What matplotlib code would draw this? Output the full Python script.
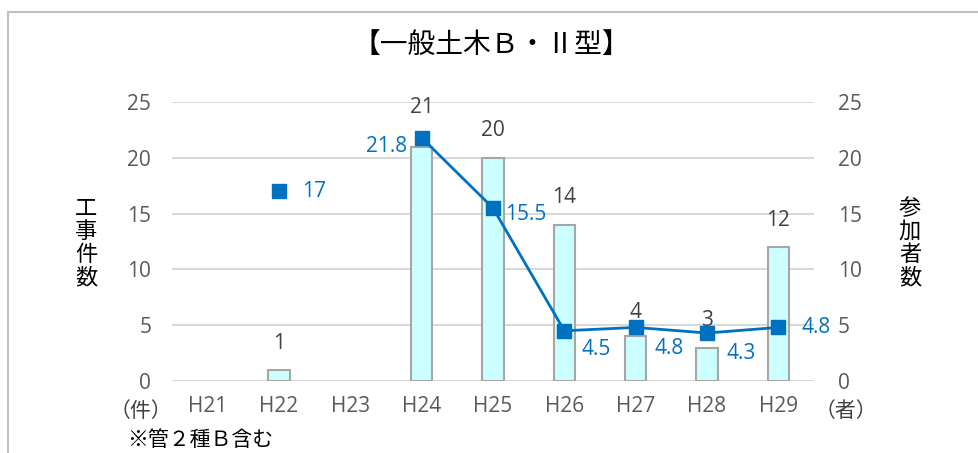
import numpy as np
import matplotlib.pyplot as plt
from matplotlib.patches import Rectangle

plt.rcParams['font.family'] = ['Noto Sans CJK JP', 'DejaVu Sans']
num_font = ["Open Sans", "DejaVu Sans"]

years = ["H21", "H22", "H23", "H24", "H25", "H26", "H27", "H28", "H29"]
works = [np.nan, 1, np.nan, 21, 20, 14, 4, 3, 12]
bidders = [np.nan, 17, np.nan, 21.8, 15.5, 4.5, 4.8, 4.3, 4.8]
# label offsets in pixels (dx, dy) from the point, label anchored left/right-center
bid_pos = [None, (23, 0, "left"), None, (-15, -9, "right"), (12, -6, "left"),
           (17, -19, "left"), (19, -21, "left"), (20, -20, "left"), (23, 0, "left")]
work_dy = [None, 26, None, 39, 27, 27, 24, 27, 27]

fig = plt.figure(figsize=(9.79, 4.53), dpi=100)
ax = fig.add_axes([172 / 979, 1 - 381 / 453, (814 - 172) / 979, (381 - 102) / 453])
ax2 = ax.twinx()

x = np.arange(len(years))
ax.bar(x, works, width=0.3, color="#CCFFFF", edgecolor="#A6A6A6", linewidth=1.5, zorder=2)
for i, v in enumerate(works):
    if not np.isnan(v):
        ax.annotate(str(v), (i, v), xytext=(0, work_dy[i]), textcoords="offset pixels",
                    ha="center", va="center", fontsize=15, color="#404040", family=num_font)

ax2.plot(x, bidders, color="#0070C0", lw=2, marker="s", markersize=10, zorder=3)
for i, v in enumerate(bidders):
    if bid_pos[i] is None:
        continue
    dx, dy, ha = bid_pos[i]
    lab = str(int(v)) if v == int(v) else str(v)
    ax2.annotate(lab, (i, v), xytext=(dx, dy), textcoords="offset pixels",
                 ha=ha, va="center", fontsize=15, color="#0070C0", family=num_font)

for a in (ax, ax2):
    a.set_ylim(0, 25)
    a.set_yticks(range(0, 26, 5))
    a.tick_params(length=0, labelsize=15, labelcolor="#595959")
    for s in a.spines.values():
        s.set_visible(False)
    for t in a.get_yticklabels():
        t.set_family(num_font)
ax.tick_params(axis="y", pad=15)
ax2.tick_params(axis="y", pad=17)
ax.set_xlim(-0.5, len(years) - 0.5)
ax.set_xticks(x)
ax.set_xticklabels(years)
ax.tick_params(axis="x", pad=11)
for t in ax.get_xticklabels():
    t.set_family(num_font)
ax.grid(axis="y", color="#D9D9D9", lw=1.5, zorder=0)
ax.set_axisbelow(True)
ax.axhline(0, color="#D9D9D9", lw=1.5, zorder=1)
ax2.set_zorder(ax.get_zorder() + 1)
ax2.patch.set_visible(False)

fig.text(491 / 979, 1 - 45 / 453, "【一般土木Ｂ・Ⅱ型】", ha="center", va="center", fontsize=20)
fig.text(86 / 979, 1 - 243 / 453, "工\n事\n件\n数", ha="center", va="center",
         fontsize=16, linespacing=1.0)
fig.text(910 / 979, 1 - 243 / 453, "参\n加\n者\n数", ha="center", va="center",
         fontsize=16, linespacing=1.0)
fig.text(141 / 979, 1 - 411 / 453, "（件）", ha="center", va="center", fontsize=15, color="#404040")
fig.text(846 / 979, 1 - 411 / 453, "（者）", ha="center", va="center", fontsize=15, color="#404040")
fig.text(127 / 979, 1 - 440 / 453, "※管２種Ｂ含む", ha="left", va="center", fontsize=15)

fig.patches.append(Rectangle((8 / 979, -0.1), 1.2, 1.1 - 12 / 453, transform=fig.transFigure,
                             fill=False, edgecolor="#BFBFBF", lw=1.5))

fig.savefig("out.png", dpi=100)
